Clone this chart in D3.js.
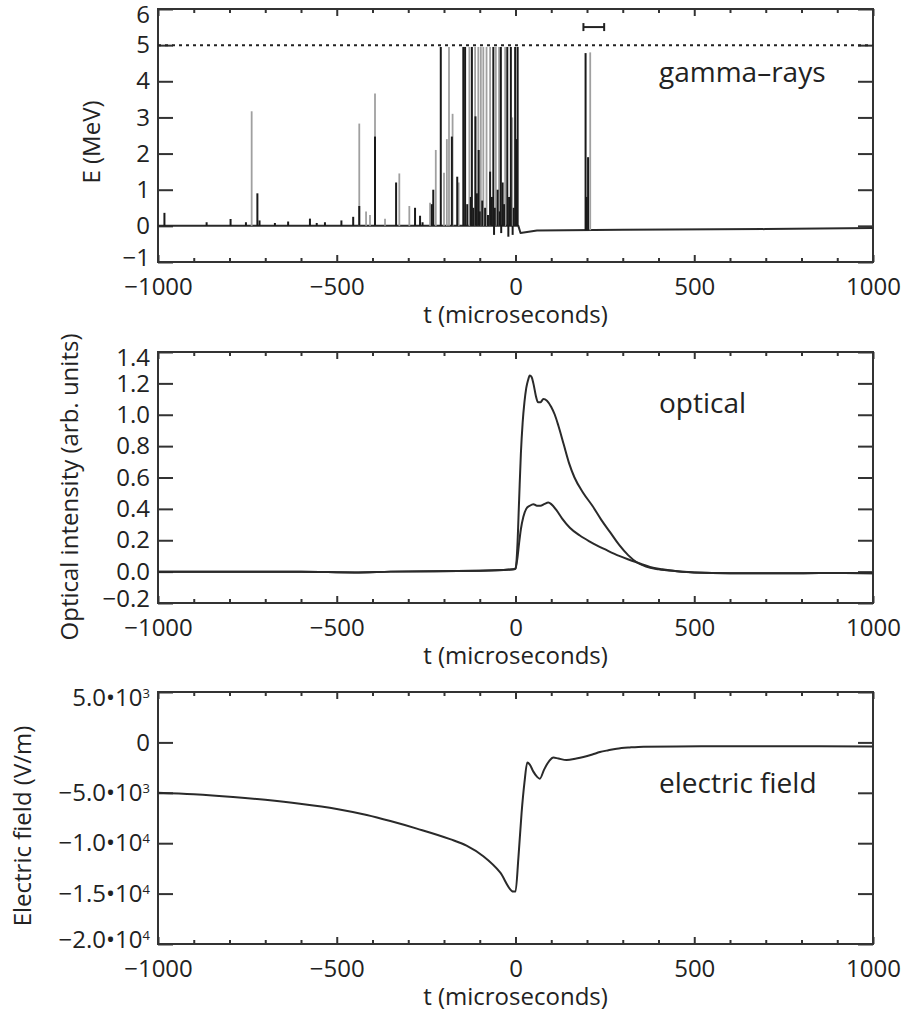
<!DOCTYPE html>
<meta charset="utf-8">
<style>
body { margin: 0; background: #fff; }
text { font-family: "Open Sans", sans-serif; fill: #222; }
.tick text { font-size: 24px; fill: #222; }
.tick line { stroke: #333; stroke-width: 2; }
.domain { display: none; }
.frame { fill: none; stroke: #333; stroke-width: 2; }
.trace { fill: none; stroke: #2a2a2a; stroke-width: 2; stroke-linejoin: round; }
.label { font-size: 28px; }
.ytitle, .xtitle { font-size: 24px; }
</style>
<svg width="901" height="1013"></svg>
<script src="https://cdn.jsdelivr.net/npm/d3@7"></script>
<script>

// ---- data ----
var xTicks = [-1000, -500, 0, 500, 1000];
var xMinor = [-900, -800, -700, -600, -400, -300, -200, -100, 100, 200, 300, 400, 600, 700, 800, 900];

// gamma-rays panel
var gTicks = [-1, 0, 1, 2, 3, 4, 5, 6];
var saturation = 5;
var baseT = [-1000, 8, 14, 60, 300, 700, 1000];
var baseE = [0, 0, -0.2, -0.13, -0.11, -0.09, -0.06];
var grayT = [-738, -437, -418, -407, -393, -365, -325, -297, -239, -223, -200, -192, -186, -176, -159,
             -129, -113, -104, -97, -90, -81, -71, -55, -46, -29, -9, 209];
var grayE = [3.17, 2.83, 0.4, 0.3, 3.66, 0.2, 1.45, 0.55, 0.64, 2.1, 1.47, 2.4, 4.95, 3.1, 1.2,
             4.95, 4.95, 4.95, 4.95, 4.95, 4.95, 4.95, 4.95, 4.95, 4.95, 3.0, 4.8];
var blackT = [-982, -864, -797, -754, -722, -716, -673, -636, -575, -556, -533, -487, -454, -437, -393,
              -334, -281, -267, -260, -234, -230, -209, -178, -163, -146, -141, -135, -125, -122, -118,
              -112, -108, -103, -100, -93, -85, -77, -71, -66, -62, -60, -58, -50, -44, -41, -40, -36,
              -32, -23, -20, -18, -13, -8, -5, -1, 3, 6, 196, 199, 203];
var blackE = [0.36, 0.1, 0.19, 0.1, 0.9, 0.15, 0.08, 0.12, 0.2, 0.08, 0.1, 0.15, 0.25, 0.55, 2.47,
              1.2, 0.5, 0.28, 0.1, 0.6, 1.0, 4.95, 2.47, 1.36, 4.95, 4.95, 0.6, 0.8, 4.95, 0.5,
              3.03, 0.9, 2.1, 0.4, 0.7, 0.5, 0.3, 1.5, 0.8, 4.95, -0.25, 0.5, 1.0, 0.4, 4.95, -0.2, 1.2,
              0.6, 4.95, -0.3, 0.8, 4.95, -0.25, 0.5, 4.95, 2.4, 4.95, 4.78, 0.8, 1.9];
var barT = [190, 248];
var barE = 5.5;

// optical panel
var oTicks = [-0.2, 0.0, 0.2, 0.4, 0.6, 0.8, 1.0, 1.2, 1.4];
var optHiT = [-1000, -600, -450, -350, -100, -5, 0, 5, 10, 15, 20, 25, 30, 35, 40, 45, 50, 57, 63, 70, 78,
              88, 100, 110, 120, 135, 150, 165, 190, 215, 240, 265, 290, 315, 340, 365, 400, 450, 500,
              600, 700, 800, 900, 1000];
var optHiV = [0, 0, -0.005, 0, 0.005, 0.015, 0.02, 0.15, 0.45, 0.75, 0.95, 1.08, 1.17, 1.22, 1.25, 1.24,
              1.2, 1.12, 1.08, 1.08, 1.1, 1.09, 1.05, 1.0, 0.93, 0.81, 0.69, 0.6, 0.5, 0.42, 0.33, 0.25,
              0.17, 0.105, 0.058, 0.032, 0.015, 0.003, -0.005, -0.01, -0.01, -0.01, -0.008, -0.01];
var optLoT = [-1000, -600, -450, -350, -100, -5, 0, 5, 10, 15, 22, 30, 40, 50, 60, 70, 80, 92, 100, 115,
              130, 152, 180, 209, 255, 290, 320, 350, 376, 410, 441, 500, 600, 700, 800, 900, 1000];
var optLoV = [0, 0, -0.005, 0, 0.005, 0.015, 0.02, 0.08, 0.18, 0.27, 0.35, 0.4, 0.42, 0.43, 0.42, 0.42,
              0.43, 0.44, 0.43, 0.39, 0.34, 0.28, 0.23, 0.19, 0.137, 0.1, 0.074, 0.05, 0.03, 0.015,
              0.005, -0.005, -0.01, -0.01, -0.01, -0.008, -0.01];

// electric field panel
var eTicks = [-20000, -15000, -10000, -5000, 0, 5000];
var eTickMant = ["\u22122.0", "\u22121.5", "\u22121.0", "\u22125.0", "0", "5.0"];
var eTickExp = ["4", "4", "4", "3", "", "3"];
var efT = [-1000, -900, -790, -700, -603, -500, -416, -350, -276, -183, -137, -90, -43, -6, 0, 8, 17, 25,
           33, 40, 50, 60, 68, 80, 95, 106, 120, 143, 170, 190, 215, 236, 260, 283, 320, 358, 450, 550,
           650, 750, 850, 1000];
var efV = [-4990, -5150, -5420, -5700, -6080, -6600, -7200, -7800, -8550, -9600, -10250, -11300, -12900,
           -14800, -14800, -11500, -7000, -4000, -2000, -2200, -2900, -3400, -3600, -2700, -1800, -1500,
           -1600, -1750, -1600, -1450, -1200, -960, -780, -630, -500, -420, -400, -380, -380, -370, -390, -400];

// ---- layout ----
var svg = d3.select("svg");
var L = 158, R = 873;
var x = d3.scaleLinear().domain([-1000, 1000]).range([L, R]);

function panel(top, bottom, ydom, yticks, yfmt) {
  var y = d3.scaleLinear().domain(ydom).range([bottom, top]);
  var g = svg.append("g");

  g.append("g").attr("transform", "translate(0," + bottom + ")")
    .call(d3.axisBottom(x).tickValues(xMinor).tickSize(-4).tickFormat(""));
  g.append("g").attr("transform", "translate(0," + top + ")")
    .call(d3.axisTop(x).tickValues(xMinor).tickSize(-4).tickFormat(""));
  g.append("g").attr("transform", "translate(0," + bottom + ")")
    .call(d3.axisBottom(x).tickValues(xTicks).tickSize(-7).tickPadding(16).tickFormat(d3.format("d")));
  g.append("g").attr("transform", "translate(0," + top + ")")
    .call(d3.axisTop(x).tickValues(xTicks).tickSize(-7).tickFormat(""));

  var ya = g.append("g").attr("transform", "translate(" + L + ",0)")
    .call(d3.axisLeft(y).tickValues(yticks).tickSize(-15).tickPadding(8).tickFormat(yfmt));
  g.append("g").attr("transform", "translate(" + R + ",0)")
    .call(d3.axisRight(y).tickValues(yticks).tickSize(-15).tickFormat(""));

  // nudge the end labels inward like the original
  var lab = ya.selectAll(".tick text");
  lab.filter(function(d) { return d === ydom[1]; }).attr("transform", "translate(0,6)");
  lab.filter(function(d) { return d === ydom[0]; }).attr("transform", "translate(0,-4)");

  g.append("rect").attr("class", "frame")
    .attr("x", L).attr("y", top).attr("width", R - L).attr("height", bottom - top);

  g.append("text").attr("class", "xtitle")
    .attr("x", x(0)).attr("y", bottom + 61)
    .attr("text-anchor", "middle").text("t (microseconds)");

  return { g: g, y: y, axis: ya };
}

// ---- gamma-rays ----
var pg = panel(9, 262, [-1, 6], gTicks, d3.format("d"));
var baseAt = d3.scaleLinear().domain(baseT).range(baseE);

pg.g.append("line")
  .attr("x1", x(-1000)).attr("x2", x(1000))
  .attr("y1", pg.y(saturation)).attr("y2", pg.y(saturation))
  .attr("stroke", "#222").attr("stroke-width", 2).attr("stroke-dasharray", "3,4");

pg.g.append("path").attr("class", "trace").attr("stroke-width", 1.8)
  .attr("d", d3.line().x(function(d) { return x(d); }).y(function(d, i) { return pg.y(baseE[i]); })(baseT));

function spikes(ts, es, color, w) {
  pg.g.append("g").selectAll("line").data(ts).enter().append("line")
    .attr("x1", function(d) { return x(d); })
    .attr("x2", function(d) { return x(d); })
    .attr("y1", function(d) { return pg.y(baseAt(d)); })
    .attr("y2", function(d, i) { return pg.y(es[i]); })
    .attr("stroke", color).attr("stroke-width", w);
}
spikes(grayT, grayE, "#a0a0a0", 1.8);
spikes(blackT, blackE, "#1a1a1a", 2);

var bar = pg.g.append("g").attr("stroke", "#222").attr("stroke-width", 2);
bar.append("line").attr("x1", x(barT[0])).attr("x2", x(barT[1]))
  .attr("y1", pg.y(barE)).attr("y2", pg.y(barE));
bar.selectAll(".cap").data(barT).enter().append("line")
  .attr("x1", function(d) { return x(d); }).attr("x2", function(d) { return x(d); })
  .attr("y1", pg.y(barE) - 4).attr("y2", pg.y(barE) + 4);

pg.g.append("text").attr("class", "label").attr("x", 659).attr("y", 82).text("gamma\u2013rays");
svg.append("text").attr("class", "ytitle").attr("text-anchor", "middle")
  .attr("transform", "translate(100,142) rotate(-90)").text("E (MeV)");

// ---- optical ----
var po = panel(352, 603, [-0.2, 1.4], oTicks, d3.format(".1f"));
var optLine = function(ts, vs) {
  return d3.line().curve(d3.curveMonotoneX)
    .x(function(d) { return x(d); }).y(function(d, i) { return po.y(vs[i]); })(ts);
};
po.g.append("path").attr("class", "trace").attr("d", optLine(optLoT, optLoV));
po.g.append("path").attr("class", "trace").attr("d", optLine(optHiT, optHiV));
po.g.append("text").attr("class", "label").attr("x", 659).attr("y", 413).text("optical");
svg.append("text").attr("class", "ytitle").attr("text-anchor", "middle")
  .attr("transform", "translate(78,487) rotate(-90)").text("Optical intensity (arb. units)");

// ---- electric field ----
var pe = panel(692, 944, [-20000, 5000], eTicks, function(d) { return eTickMant[eTicks.indexOf(d)]; });
pe.axis.selectAll(".tick text").each(function(d) {
  var i = eTicks.indexOf(d);
  if (eTickExp[i] === "") return;
  var t = d3.select(this);
  t.text(eTickMant[i] + "\u202210");
  t.append("tspan").attr("dy", -8).style("font-size", "13px").text(eTickExp[i]);
});
pe.g.append("path").attr("class", "trace")
  .attr("d", d3.line().curve(d3.curveMonotoneX)
    .x(function(d) { return x(d); }).y(function(d, i) { return pe.y(efV[i]); })(efT));
pe.g.append("text").attr("class", "label").attr("x", 659).attr("y", 793).text("electric field");
svg.append("text").attr("class", "ytitle").attr("text-anchor", "middle")
  .attr("transform", "translate(31,826) rotate(-90)").text("Electric field (V/m)");

</script>
